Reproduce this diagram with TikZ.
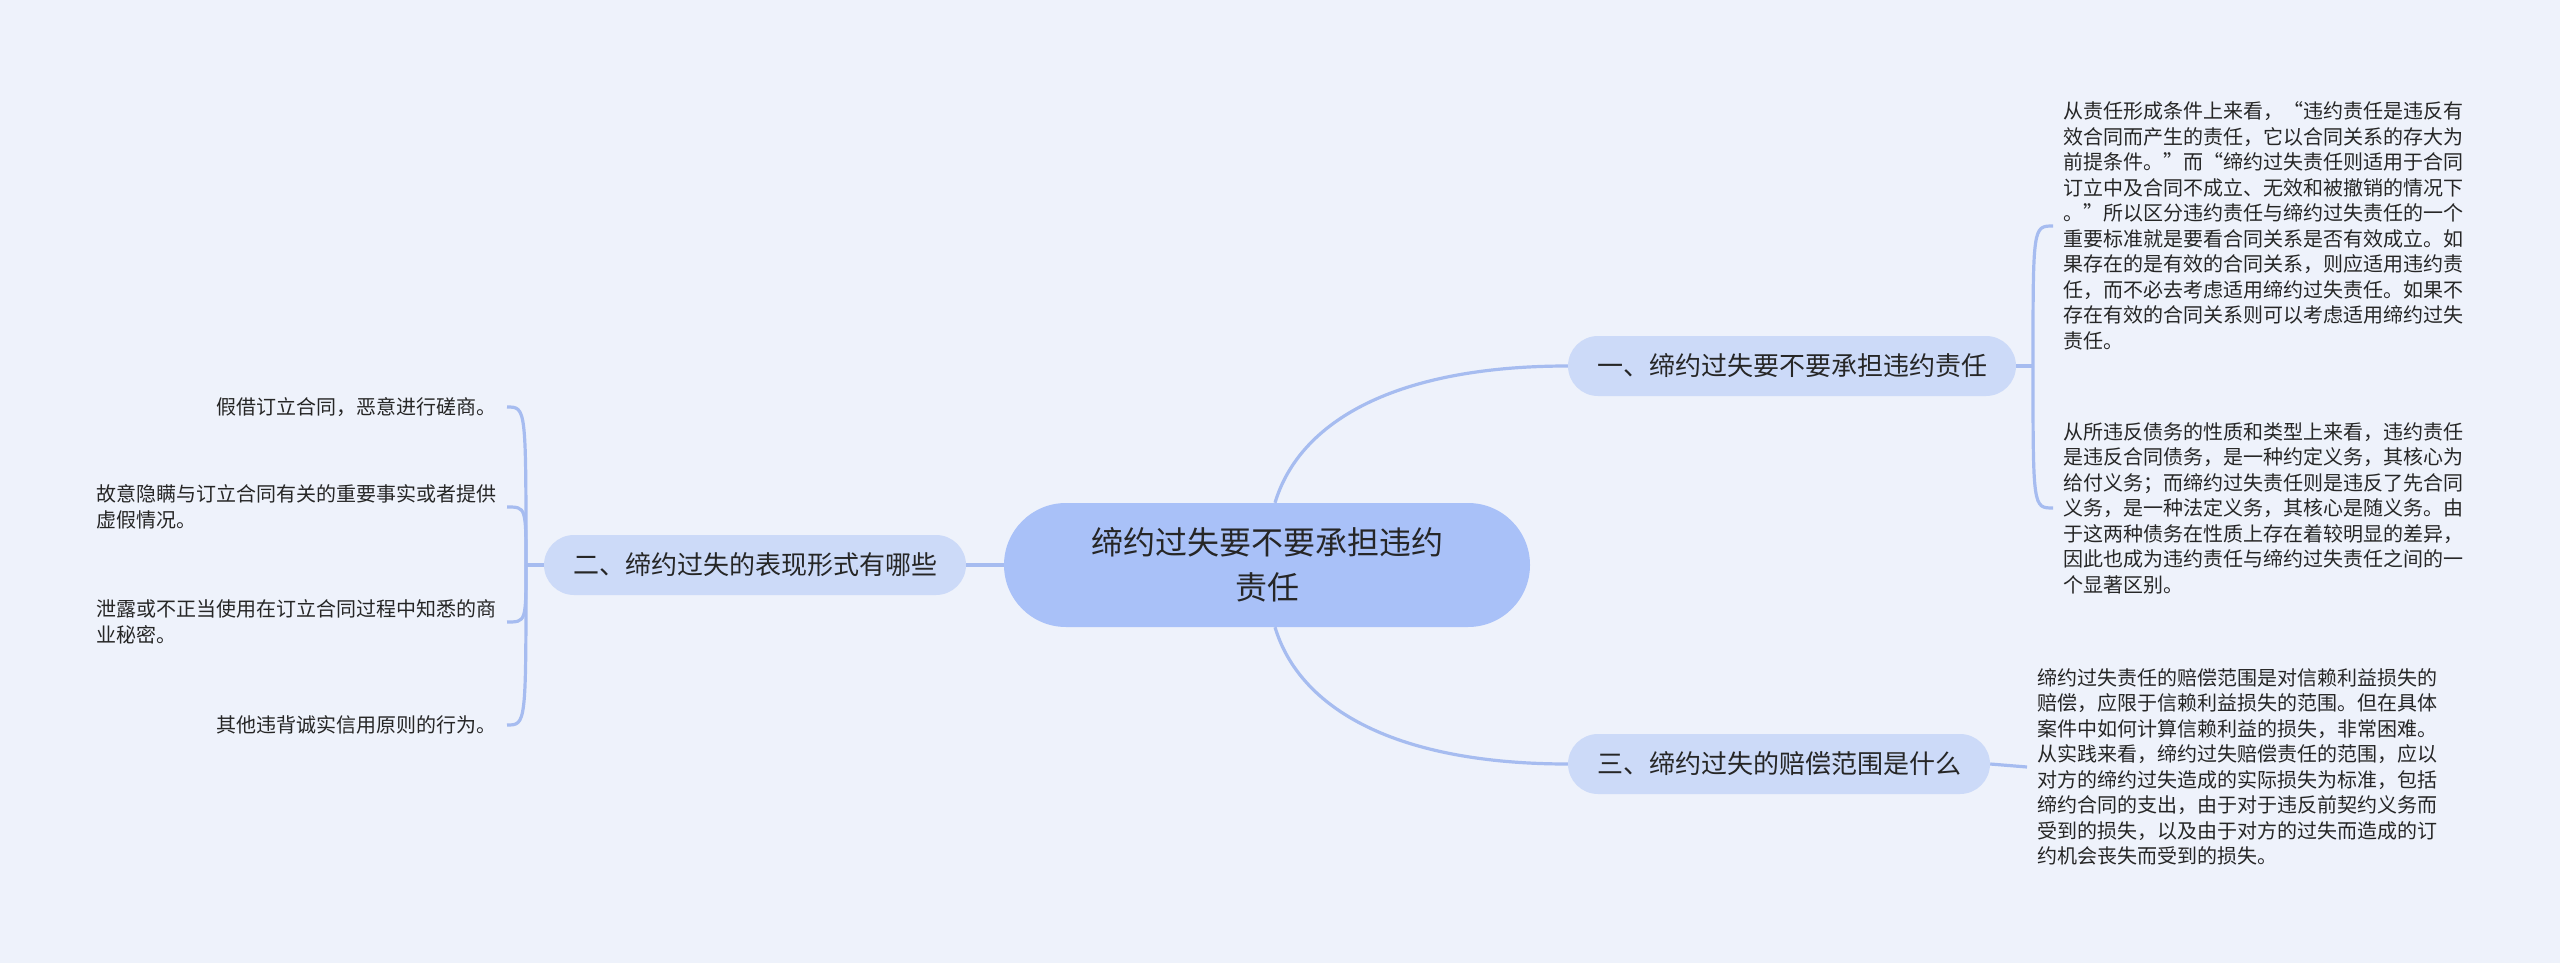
\documentclass[tikz,border=0pt]{standalone}
\usepackage{fontspec}
\setmainfont{Noto Sans CJK SC}
\usetikzlibrary{positioning}
\usetikzlibrary{calc}

\definecolor{pagebg}{HTML}{EEF2FB}
\definecolor{rootfill}{HTML}{A9C1F8}
\definecolor{topicfill}{HTML}{CCDAF8}
\definecolor{linkblue}{HTML}{A6BCF0}
\definecolor{inktext}{HTML}{262626}

\begin{document}
\begin{tikzpicture}[x=1pt, y=-1pt, text=inktext,
    link/.style={draw=linkblue, line width=3.2pt},
    root/.style={fill=rootfill, rounded corners=62pt, minimum width=526pt,
        minimum height=124pt, align=center, font=\fontsize{32}{45}\selectfont},
    topic/.style={fill=topicfill, rounded corners=30pt, minimum height=60pt,
        inner xsep=29pt, font=\fontsize{26}{30}\selectfont},
    leaf/.style={align=left, inner xsep=10pt, inner ysep=0pt,
        font=\fontsize{20}{25.5}\selectfont}]
    \newcommand\bend{8}

    \fill[pagebg] (0, 0) rectangle (2560, 963);
    \useasboundingbox (0, 0) rectangle (2560, 963);

    \node[root] (root) at (1267, 565) {缔约过失要不要承担违约\\责任};

    \node[topic] (topic-one) at (1792, 366) {一、缔约过失要不要承担违约责任};
    \node[topic] (topic-two) at (755, 565) {二、缔约过失的表现形式有哪些};
    \node[topic] (topic-three) at (1779, 764) {三、缔约过失的赔偿范围是什么};

    \node[leaf, anchor=west] (leaf-one-a) at (2053, 226)
        {从责任形成条件上来看，“违约责任是违反有\\
         效合同而产生的责任，它以合同关系的存大为\\
         前提条件。”而“缔约过失责任则适用于合同\\
         订立中及合同不成立、无效和被撤销的情况下\\
         。”所以区分违约责任与缔约过失责任的一个\\
         重要标准就是要看合同关系是否有效成立。如\\
         果存在的是有效的合同关系，则应适用违约责\\
         任，而不必去考虑适用缔约过失责任。如果不\\
         存在有效的合同关系则可以考虑适用缔约过失\\
         责任。};
    \node[leaf, anchor=west] (leaf-one-b) at (2053, 508)
        {从所违反债务的性质和类型上来看，违约责任\\
         是违反合同债务，是一种约定义务，其核心为\\
         给付义务；而缔约过失责任则是违反了先合同\\
         义务，是一种法定义务，其核心是随义务。由\\
         于这两种债务在性质上存在着较明显的差异，\\
         因此也成为违约责任与缔约过失责任之间的一\\
         个显著区别。};

    \node[leaf, anchor=east] (leaf-two-a) at (507, 407)
        {假借订立合同，恶意进行磋商。};
    \node[leaf, anchor=east] (leaf-two-b) at (507, 507)
        {故意隐瞒与订立合同有关的重要事实或者提供\\虚假情况。};
    \node[leaf, anchor=east] (leaf-two-c) at (507, 622)
        {泄露或不正当使用在订立合同过程中知悉的商\\业秘密。};
    \node[leaf, anchor=east] (leaf-two-d) at (507, 725)
        {其他违背诚实信用原则的行为。};

    \node[leaf, anchor=west] (leaf-three-a) at (2027, 767)
        {缔约过失责任的赔偿范围是对信赖利益损失的\\
         赔偿，应限于信赖利益损失的范围。但在具体\\
         案件中如何计算信赖利益的损失，非常困难。\\
         从实践来看，缔约过失赔偿责任的范围，应以\\
         对方的缔约过失造成的实际损失为标准，包括\\
         缔约合同的支出，由于对于违反前契约义务而\\
         受到的损失，以及由于对方的过失而造成的订\\
         约机会丧失而受到的损失。};

    \draw[link] ($(root.north)+(\bend, 0)$)
        .. controls +(25, -83) and +(-170, 0) .. (topic-one.west);
    \draw[link] ($(root.south)+(\bend, 0)$)
        .. controls +(25, 83) and +(-170, 0) .. (topic-three.west);
    \draw[link] (root.west) -- (topic-two.east);

    \coordinate (spine-r) at (2033, 366);
    \draw[link] (topic-one.east) -- (spine-r);
    \foreach \leaf in {leaf-one-a, leaf-one-b}
        \draw[link] (spine-r) .. controls (spine-r |- \leaf.west)
            and (spine-r |- \leaf.west) .. (\leaf.west);

    \coordinate (spine-l) at (526, 565);
    \draw[link] (topic-two.west) -- (spine-l);
    \foreach \leaf in {leaf-two-a, leaf-two-b, leaf-two-c, leaf-two-d}
        \draw[link] (spine-l) .. controls (spine-l |- \leaf.east)
            and (spine-l |- \leaf.east) .. (\leaf.east);

    \draw[link] (topic-three.east) -- (leaf-three-a.west);
\end{tikzpicture}
\end{document}
